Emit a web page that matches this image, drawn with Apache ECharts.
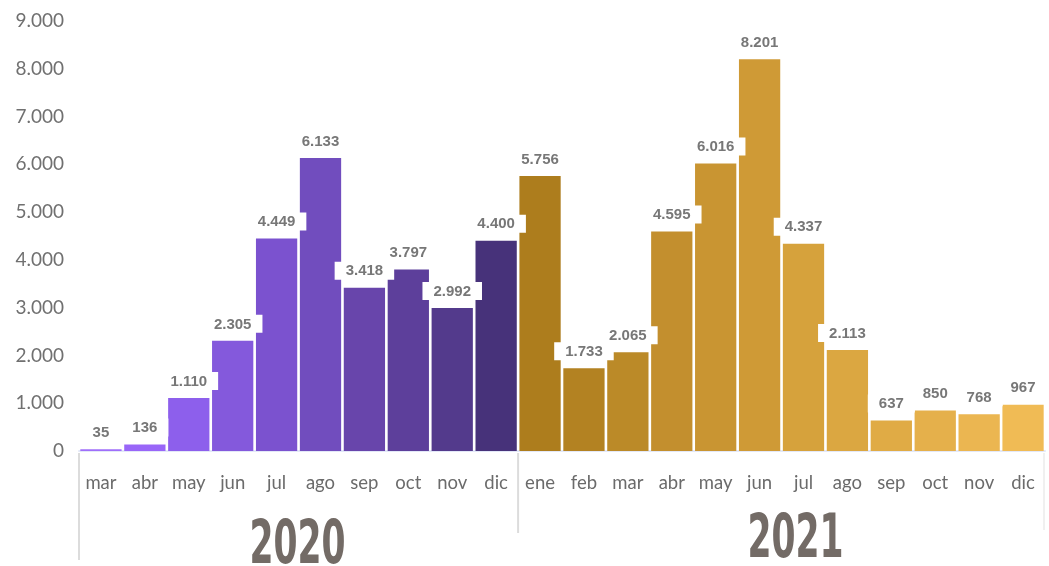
<!DOCTYPE html>
<html>
<head>
<meta charset="utf-8">
<script src="https://cdn.jsdelivr.net/npm/echarts@6/dist/echarts.min.js"></script>
<style>
  html, body { margin: 0; padding: 0; background: #fff; }
  #chart { width: 1049px; height: 566px; }
</style>
</head>
<body>
<div id="chart"></div>
<script>
// Monthly values, two years
const months2020 = ['mar', 'abr', 'may', 'jun', 'jul', 'ago', 'sep', 'oct', 'nov', 'dic'];
const months2021 = ['ene', 'feb', 'mar', 'abr', 'may', 'jun', 'jul', 'ago', 'sep', 'oct', 'nov', 'dic'];
const values2020 = [35, 136, 1110, 2305, 4449, 6133, 3418, 3797, 2992, 4400];
const values2021 = [5756, 1733, 2065, 4595, 6016, 8201, 4337, 2113, 637, 850, 768, 967];
const years = ['2020', '2021'];
const yTicks = [0, 1000, 2000, 3000, 4000, 5000, 6000, 7000, 8000, 9000];

const colors2020 = ['#a06ffa', '#9966f8', '#8d5fec', '#8459dc', '#7b52cf', '#714dbe',
                    '#6845ab', '#5d3f9b', '#533a8c', '#47327a'];
const colors2021 = ['#ad7d1d', '#b38222', '#bb8a28', '#c38f2e', '#c99532', '#cf9a36',
                    '#d6a23c', '#dba741', '#e0ab45', '#e5b04b', '#ebb651', '#f0bb55'];

const categories = months2020.concat(months2021);
const barData = values2020.map((v, i) => ({ value: v, itemStyle: { color: colors2020[i] } }))
  .concat(values2021.map((v, i) => ({ value: v, itemStyle: { color: colors2021[i] } })));

const fmt = v => String(v).replace(/\B(?=(\d{3})+(?!\d))/g, '.');

const GRID = { left: 79, right: 4, top: 21, bottom: 115 };
const W = 1049, H = 566;
const plotW = W - GRID.left - GRID.right;
const band = plotW / categories.length;
const baseY = H - GRID.bottom;

const chart = echarts.init(document.getElementById('chart'), null, { renderer: 'canvas' });

// Group brackets and year titles under the month labels
const sepStyle = { stroke: '#dcdcdc', lineWidth: 2 };
const x0 = GRID.left;
const xSplit = GRID.left + band * months2020.length;
const xEnd = GRID.left + plotW;
const yearFont = 'bold 60px "DejaVu Sans Condensed"';
const graphics = [
  { type: 'line', shape: { x1: x0, y1: baseY + 2, x2: x0, y2: 560 }, style: sepStyle, silent: true },
  { type: 'line', shape: { x1: xSplit, y1: baseY + 2, x2: xSplit, y2: 533 }, style: sepStyle, silent: true },
  { type: 'line', shape: { x1: xEnd - 1, y1: baseY + 2, x2: xEnd - 1, y2: 530 }, style: { stroke: '#f0f0f0', lineWidth: 2 }, silent: true },
  {
    type: 'text', x: (x0 + xSplit) / 2 - 1, y: 547, scaleX: 0.64,
    style: { text: years[0], fill: '#736b66', font: yearFont, align: 'center', verticalAlign: 'middle' }
  },
  {
    type: 'text', x: (xSplit + xEnd) / 2 + 14, y: 541, scaleX: 0.64,
    style: { text: years[1], fill: '#736b66', font: yearFont, align: 'center', verticalAlign: 'middle' }
  }
];

chart.setOption({
  animation: false,
  backgroundColor: '#ffffff',
  grid: { left: GRID.left, right: GRID.right, top: GRID.top, bottom: GRID.bottom, containLabel: false },
  xAxis: {
    type: 'category',
    data: categories,
    axisLine: { show: true, lineStyle: { color: '#e3e8f8', width: 2 } },
    axisTick: { show: false },
    axisLabel: { color: '#6b6b6b', fontFamily: 'Lato', fontSize: 18.5, margin: 23, interval: 0 }
  },
  yAxis: {
    type: 'value',
    min: yTicks[0],
    max: yTicks[yTicks.length - 1],
    interval: 1000,
    splitLine: { show: false },
    axisLine: { show: false },
    axisTick: { show: false },
    axisLabel: {
      color: '#707070', fontFamily: 'Lato', fontSize: 19, margin: 15,
      formatter: v => fmt(v)
    }
  },
  series: [{
    type: 'bar',
    data: barData,
    barCategoryGap: '6%',
    label: {
      show: true,
      position: 'top',
      distance: 8,
      formatter: p => fmt(p.value),
      color: '#777777',
      fontFamily: 'Liberation Sans',
      fontWeight: 'bold',
      fontSize: 15,
      backgroundColor: '#ffffff',
      padding: [2, 11, 1, 11]
    }
  }],
  graphic: graphics
});
</script>
</body>
</html>
